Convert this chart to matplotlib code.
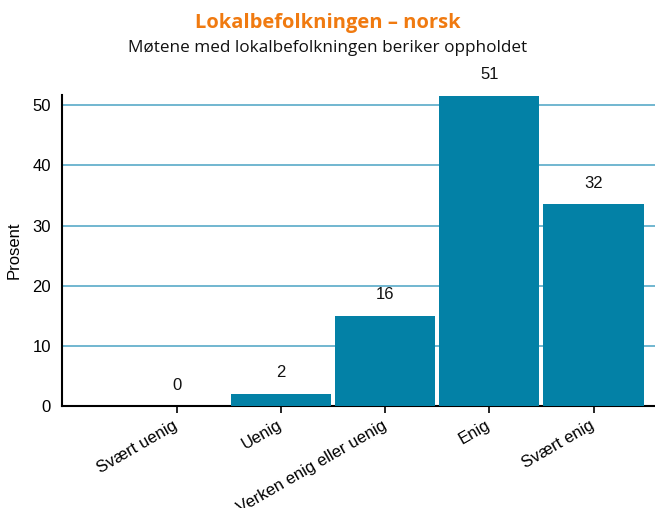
import matplotlib
matplotlib.use("Agg")
import matplotlib.pyplot as plt

kategorier = ["Svært uenig", "Uenig", "Verken enig eller uenig", "Enig", "Svært enig"]
hoyde = [0, 2.05, 15.0, 51.6, 33.6]
etiketter = ["0", "2", "16", "51", "32"]

plt.rcParams['font.family'] = ['Liberation Sans', 'DejaVu Sans']

fig = plt.figure(figsize=(6.55, 5.08), dpi=100)
ax = fig.add_axes([0.0947, 0.2008, 0.9053, 0.6122])

x = list(range(len(kategorier)))
ax.bar(x, hoyde, width=0.96, color='#0381a6', zorder=3)

for xi, h, lab in zip(x, hoyde, etiketter):
	ax.annotate(lab, xy=(xi, h), xytext=(0, 15), textcoords='offset points',
		ha='center', va='center', fontsize=12, color='#111111')

ax.set_xlim(-1.1, 4.59)
ax.set_ylim(0, 51.7)
ax.set_yticks([0, 10, 20, 30, 40, 50])
ax.yaxis.grid(True, color='#4aa3c3', linewidth=1.1, zorder=0)
ax.tick_params(axis='y', length=0, labelsize=12, pad=8)
ax.tick_params(axis='x', length=5, width=1.2, labelsize=12, pad=8)
ax.set_xticks(x)
ax.set_xticklabels(kategorier, rotation=30, ha='right', va='center', rotation_mode='anchor')

for s in ['top', 'right']:
	ax.spines[s].set_visible(False)
ax.spines['left'].set_linewidth(1.5)
ax.spines['bottom'].set_linewidth(1.5)

ax.set_ylabel("Prosent", fontsize=12, labelpad=8)

fig.text(0.5, 0.955, "Lokalbefolkningen – norsk", ha='center', va='center',
	fontsize=14.5, fontweight='bold', color='#f07a10', family=['Open Sans', 'DejaVu Sans'])
fig.text(0.5, 0.905, "Møtene med lokalbefolkningen beriker oppholdet", ha='center', va='center',
	fontsize=12.3, color='#111111', family=['Open Sans', 'DejaVu Sans'])

fig.savefig("out.png", dpi=100)
